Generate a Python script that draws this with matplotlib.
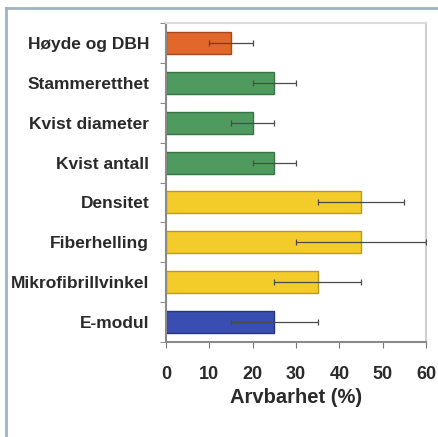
import matplotlib
matplotlib.use("Agg")
import matplotlib.pyplot as plt
from matplotlib.lines import Line2D
import numpy as np

plt.rcParams['font.family'] = ['Liberation Sans', 'DejaVu Sans']

categories = ["Høyde og DBH", "Stammeretthet", "Kvist diameter", "Kvist antall",
              "Densitet", "Fiberhelling", "Mikrofibrillvinkel", "E-modul"]
values = [15, 25, 20, 25, 45, 45, 35, 25]
errors = [5, 5, 5, 5, 10, 15, 10, 10]
colors = ["#e2672a", "#4f9a5e", "#4f9a5e", "#4f9a5e",
          "#f3cc2c", "#f3cc2c", "#f3cc2c", "#3a4db0"]
edges = ["#a9481c", "#3a7446", "#3a7446", "#3a7446",
         "#b99a1e", "#b99a1e", "#b99a1e", "#27357e"]
xticks = [0, 10, 20, 30, 40, 50, 60]
xlabel = "Arvbarhet (%)"

fig = plt.figure(figsize=(4.38, 4.37), dpi=100)
ax = fig.add_axes([166 / 438, 1 - 342 / 437, 260 / 438, 319 / 437])

y = np.arange(len(categories))
ax.barh(y, values, height=0.55, color=colors, edgecolor=edges, linewidth=1.0, zorder=2)
ax.errorbar(values, y, xerr=errors, fmt='none', ecolor='#4a4a4a',
            elinewidth=0.9, capsize=2.5, capthick=0.9, zorder=3)

ax.set_ylim(len(categories) - 0.5, -0.5)
ax.set_xlim(0, 60)
ax.set_yticks(y)
ax.set_yticklabels(categories, fontsize=12.5, fontweight='bold', color='#2a2a2a')
ax.set_yticks(np.arange(-0.5, len(categories), 1.0), minor=True)
ax.tick_params(axis='y', which='major', length=0, pad=12)
ax.tick_params(axis='y', which='minor', length=4, direction='out', color='#777777')
ax.set_xticks(xticks)
ax.set_xticklabels([str(t) for t in xticks], fontsize=13, fontweight='bold', color='#2a2a2a')
ax.tick_params(axis='x', length=4, direction='out', color='#777777', pad=13)
ax.set_xlabel(xlabel, fontsize=14.5, fontweight='bold', color='#2a2a2a', labelpad=4)

ax.spines['left'].set_color('#8a8a8a')
ax.spines['bottom'].set_color('#8a8a8a')
ax.spines['top'].set_color('#dcdcdc')
ax.spines['right'].set_color('#cfcfcf')
for s in ax.spines.values():
    s.set_linewidth(1.5)

# page frame lines along the top and left edges
fig.add_artist(Line2D([6 / 438, 6 / 438], [0, 1 - 8 / 437], transform=fig.transFigure,
                      color='#9db3c6', linewidth=2.0))
fig.add_artist(Line2D([6 / 438, 1], [1 - 8 / 437, 1 - 8 / 437], transform=fig.transFigure,
                      color='#9db3c6', linewidth=2.0))

fig.savefig("out.png", dpi=100)
